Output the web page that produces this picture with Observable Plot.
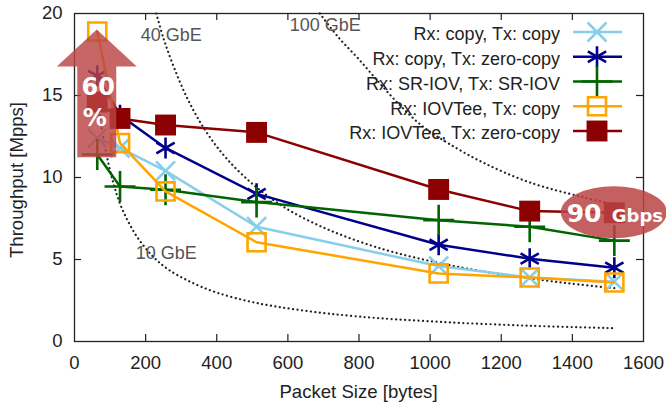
<!DOCTYPE html>
<html>
<head>
<meta charset="utf-8">
<script src="https://cdn.jsdelivr.net/npm/d3@7"></script>
<script src="https://cdn.jsdelivr.net/npm/@observablehq/plot@0.6"></script>
<style>
  html, body { margin: 0; padding: 0; background: #fff; }
  #chart svg g[aria-label*="tick label"] text,
  #chart svg g[aria-label="x-axis"] text,
  #chart svg g[aria-label="y-axis"] text { font-size: 18.5px; }
</style>
</head>
<body>
<div id="chart"></div>
<script>
// ---------- data ----------
const packetSizes = [64, 128, 256, 512, 1024, 1280, 1518];
const seriesNames = [
  "Rx: copy, Tx: copy",
  "Rx: copy, Tx: zero-copy",
  "Rx: SR-IOV, Tx: SR-IOV",
  "Rx: IOVTee, Tx: copy",
  "Rx: IOVTee, Tx: zero-copy"
];
const copyCopy = [12.4, 11.8, 10.4, 7.0, 4.6, 3.9, 3.65];
const copyZero = [16.2, 13.8, 11.8, 9.0, 5.9, 5.05, 4.5];
const srIov    = [11.4, 9.45, 9.25, 8.5, 7.4, 7.0, 6.15];
const iovCopy  = [18.9, 12.1, 9.15, 6.05, 4.15, 3.9, 3.6];
const iovZero  = [14.6, 13.6, 13.2, 12.75, 9.27, 7.95, 7.85];

// line-rate reference curves (dotted)
const gbe10Sizes  = [64, 75, 90, 110, 128, 150, 180, 220, 260, 320, 400, 512, 640, 800, 1024, 1280, 1518];
const gbe10Values = [14.9, 13.2, 11.4, 9.6, 8.4, 7.35, 6.25, 5.2, 4.45, 3.7, 2.98, 2.35, 1.9, 1.52, 1.2, 0.96, 0.81];
const gbe40Sizes  = [230, 250, 280, 320, 370, 430, 512, 600, 700, 800, 900, 1024, 1150, 1280, 1400, 1518];
const gbe40Values = [20.0, 18.5, 16.7, 14.7, 12.8, 11.1, 9.4, 8.05, 6.95, 6.1, 5.43, 4.79, 4.27, 3.85, 3.52, 3.25];
const gbe100Sizes  = [690, 740, 800, 860, 920, 980, 1050, 1150, 1280, 1430, 1518];
const gbe100Values = [20.0, 18.6, 17.2, 15.7, 14.3, 13.1, 12.1, 10.9, 9.7, 8.8, 8.35];

const rateLabels = ["10 GbE", "40 GbE", "100 GbE"];
const rateLabelX = [172, 186, 605];
const rateLabelY = [5.4, 18.7, 19.27];

const xTickValues = [200, 400, 600, 800, 1000, 1200, 1400];
const yTickValues = [5, 10, 15];

// annotations
const arrowX = 64, arrowY1 = 11.2, arrowY2 = 19, arrowText = ["60", "%"];
const bubbleX = 1518, bubbleY = 7.85, bubbleText = ["90", "Gbps"];

// ---------- styling ----------
const seriesValues = [copyCopy, copyZero, srIov, iovCopy, iovZero];
const colors  = ["#87ceeb", "#00008b", "#006400", "#ffa500", "#8b0000"];
const symbols = ["times", "asterisk", "plus", "square2", "square"];
const d3Symbols = [d3.symbolTimes, d3.symbolAsterisk, d3.symbolPlus, d3.symbolSquare2, d3.symbolSquare];
const radii   = [8.7, 10, 10, 11.5, 11.8];
const filled  = [false, false, false, false, true];

const W = 666, H = 403, mL = 74, mR = 23, mT = 13, mB = 62;
const innerW = W - mL - mR, innerH = H - mT - mB;
const textColor = "#222";

const rows = [];
seriesNames.forEach((name, i) => packetSizes.forEach((s, j) => rows.push({series: name, size: s, value: seriesValues[i][j]})));
const toPts = (xs, ys) => xs.map((x, i) => ({x, y: ys[i]}));
const rateCurves = [toPts(gbe10Sizes, gbe10Values), toPts(gbe40Sizes, gbe40Values), toPts(gbe100Sizes, gbe100Values)];
const rateLabelRows = rateLabels.map((t, i) => ({t, x: rateLabelX[i], y: rateLabelY[i]}));

const marks = [];
// inward ticks (gnuplot mirror style)
marks.push(Plot.tickX(xTickValues, {x: d => d, insetTop: innerH - 7, stroke: textColor, strokeWidth: 1.2}));
marks.push(Plot.tickX(xTickValues, {x: d => d, insetBottom: innerH - 7, stroke: textColor, strokeWidth: 1.2}));
marks.push(Plot.tickY(yTickValues, {y: d => d, insetRight: innerW - 7, stroke: textColor, strokeWidth: 1.2}));
marks.push(Plot.tickY(yTickValues, {y: d => d, insetLeft: innerW - 7, stroke: textColor, strokeWidth: 1.2}));
marks.push(Plot.frame({stroke: textColor, strokeWidth: 1.3}));

// dotted line-rate curves
rateCurves.forEach(c => marks.push(Plot.line(c, {
  x: "x", y: "y", stroke: "#222", strokeWidth: 2.2, strokeDasharray: "0.1 4.4",
  strokeLinecap: "round", curve: "catmull-rom"
})));
marks.push(Plot.text(rateLabelRows, {x: "x", y: "y", text: "t", textAnchor: "start", fill: "#555", fontSize: 18}));

// series
seriesNames.forEach((name, i) => {
  const data = rows.filter(r => r.series === name);
  marks.push(Plot.line(data, {x: "size", y: "value", stroke: colors[i], strokeWidth: 2.5}));
  marks.push(Plot.dot(data, {
    x: "size", y: "value", symbol: symbols[i], r: radii[i],
    stroke: colors[i], strokeWidth: filled[i] ? 0 : 2.6,
    fill: filled[i] ? colors[i] : "none"
  }));
});

// legend (inside, top right)
marks.push((index, scales, values, dims) => {
  const g = d3.create("svg:g");
  const right = dims.width - dims.marginRight;
  seriesNames.forEach((name, i) => {
    const yy = dims.marginTop + 19 + i * 24.75;
    g.append("text").attr("x", right - 83).attr("y", yy + 2).attr("dy", "0.35em")
      .attr("text-anchor", "end").attr("fill", textColor).attr("font-size", 18).text(name);
    g.append("line").attr("x1", right - 70).attr("x2", right - 21).attr("y1", yy).attr("y2", yy)
      .attr("stroke", colors[i]).attr("stroke-width", 2.5);
    g.append("path").attr("transform", `translate(${right - 46},${yy})`)
      .attr("d", d3.symbol(d3Symbols[i], Math.PI * radii[i] * radii[i])())
      .attr("fill", filled[i] ? colors[i] : "none")
      .attr("stroke", filled[i] ? "none" : colors[i]).attr("stroke-width", 2.6);
  });
  return g.node();
});

// axis titles
marks.push((index, scales, values, dims) => {
  const g = d3.create("svg:g").attr("fill", textColor).attr("font-size", 18.6);
  g.append("text").attr("x", (dims.marginLeft + dims.width - dims.marginRight) / 2)
    .attr("y", dims.height - 5).attr("text-anchor", "middle").text("Packet Size [bytes]");
  g.append("text").attr("transform", `translate(23,${(dims.marginTop + dims.height - dims.marginBottom) / 2 + 3}) rotate(-90)`)
    .attr("text-anchor", "middle").text("Throughput [Mpps]");
  return g.node();
});

// annotations: block arrow and bubble
marks.push((index, scales) => {
  const g = d3.create("svg:g").attr("font-family", "'DejaVu Sans', sans-serif").attr("font-weight", "bold");
  const ax = scales.x(arrowX), top = scales.y(arrowY2), bot = scales.y(arrowY1);
  const hw = 40, sw = 19.5, hh = 37;
  const pts = [[ax, top], [ax + hw, top + hh], [ax + sw, top + hh], [ax + sw, bot], [ax - sw, bot], [ax - sw, top + hh], [ax - hw, top + hh]];
  g.append("path").attr("d", "M" + pts.map(p => p.join(",")).join("L") + "Z")
    .attr("fill", "#bb4444").attr("fill-opacity", 0.82);
  g.append("text").attr("x", ax + 1.5).attr("y", top + 65.5).attr("text-anchor", "middle")
    .attr("fill", "white").attr("font-size", 24).text(arrowText[0]);
  g.append("text").attr("x", ax - 2).attr("y", top + 96.5).attr("text-anchor", "middle")
    .attr("fill", "white").attr("font-size", 24).text(arrowText[1]);

  const cx = scales.x(bubbleX), cy = scales.y(bubbleY);
  g.append("ellipse").attr("cx", cx).attr("cy", cy).attr("rx", 53).attr("ry", 26)
    .attr("fill", "#bb4444").attr("fill-opacity", 0.85);
  const t = g.append("text").attr("x", cx + 1).attr("y", cy + 10).attr("text-anchor", "middle").attr("fill", "white");
  t.append("tspan").attr("font-size", 25).text(bubbleText[0]);
  t.append("tspan").attr("font-size", 18).attr("dx", 4).text(" " + bubbleText[1]);
  return g.node();
});

const chart = Plot.plot({
  width: W, height: H,
  marginLeft: mL, marginRight: mR, marginTop: mT, marginBottom: mB,
  style: {fontFamily: "'Liberation Sans', Arial, sans-serif", fontSize: "18px", color: textColor, background: "white", overflow: "visible"},
  x: {domain: [0, 1600], ticks: 8, tickSize: 0, tickPadding: 14, tickFormat: d3.format("d"), label: null},
  y: {domain: [0, 20], ticks: 4, tickSize: 0, tickPadding: 12, tickFormat: d3.format("d"), label: null},
  marks
});
document.getElementById("chart").appendChild(chart);
</script>
</body>
</html>
